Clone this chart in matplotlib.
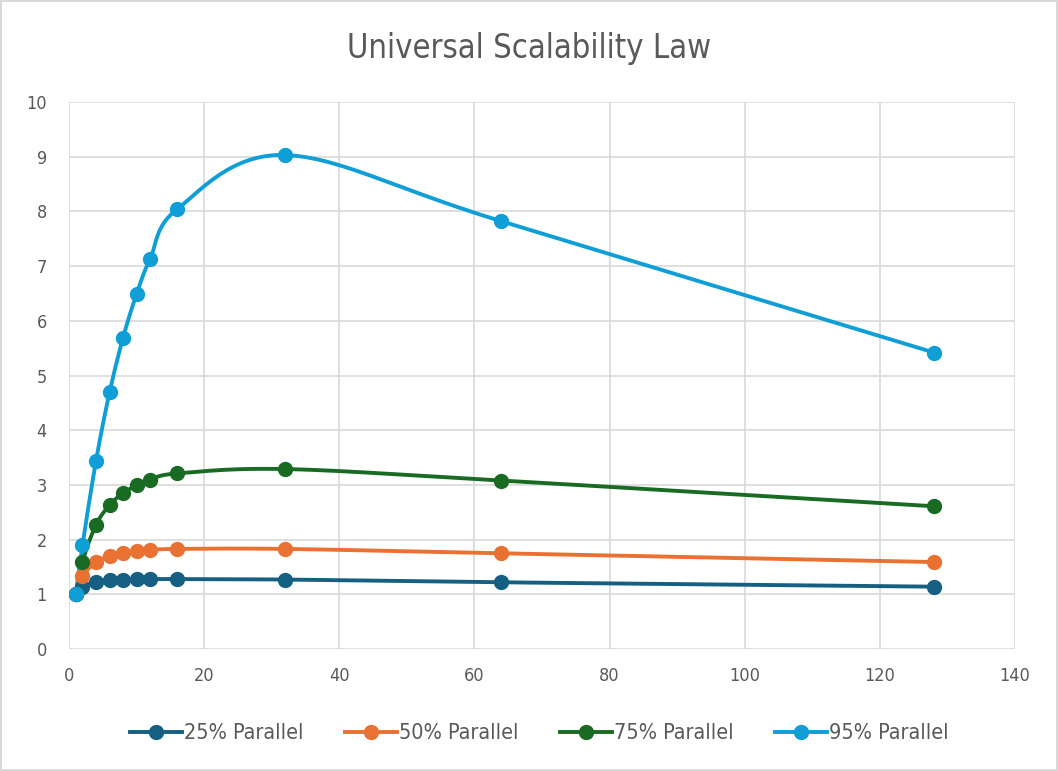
import numpy as np
import matplotlib
matplotlib.use("Agg")
import matplotlib.pyplot as plt
from matplotlib.lines import Line2D

# data
processors = [1, 2, 4, 6, 8, 10, 12, 16, 32, 64, 128]
par_25 = [1.0, 1.14, 1.23, 1.26, 1.27, 1.28, 1.28, 1.28, 1.27, 1.22, 1.14]
par_50 = [1.0, 1.33, 1.59, 1.70, 1.76, 1.79, 1.81, 1.83, 1.83, 1.75, 1.59]
par_75 = [1.0, 1.60, 2.27, 2.63, 2.85, 2.99, 3.09, 3.21, 3.29, 3.08, 2.61]
par_95 = [1.0, 1.90, 3.44, 4.69, 5.69, 6.49, 7.13, 8.04, 9.03, 7.82, 5.42]

labels = ["25% Parallel", "50% Parallel", "75% Parallel", "95% Parallel"]
colors = ["#156082", "#E97132", "#196B24", "#0F9ED5"]

plt.rcParams["font.family"] = ["DejaVu Sans"]
plt.rcParams["font.stretch"] = "condensed"
text_col = "#595959"
grid_col = "#D9D9D9"


def smooth(x, y, steps=30):
    # bezier smoothing like the office "smoothed line" option
    p = np.column_stack([x, y]).astype(float)
    n = len(p)
    out = [p[0]]
    for i in range(n - 1):
        p0 = p[i - 1] if i > 0 else p[i]
        p1 = p[i]
        p2 = p[i + 1]
        p3 = p[i + 2] if i + 2 < n else p[i + 1]
        c1 = p1 + (p2 - p0) / 6
        c2 = p2 - (p3 - p1) / 6
        t = np.linspace(0, 1, steps)[1:, None]
        seg = ((1 - t) ** 3) * p1 + 3 * ((1 - t) ** 2) * t * c1 + 3 * (1 - t) * t ** 2 * c2 + t ** 3 * p2
        out.extend(seg)
    out = np.array(out)
    return out[:, 0], out[:, 1]


fig = plt.figure(figsize=(10.58, 7.71), dpi=100)
fig.patch.set_edgecolor(grid_col)
fig.patch.set_linewidth(1.5)
ax = fig.add_axes([0.0652, 0.1582, 0.8942, 0.7095])

for vals, lab, col in zip([par_25, par_50, par_75, par_95], labels, colors):
    sx, sy = smooth(processors, vals)
    ax.plot(sx, sy, color=col, lw=2.8, solid_capstyle="round", zorder=3)
    ax.plot(processors, vals, "o", color=col, ms=10, zorder=4)

ax.set_xlim(0, 140)
ax.set_ylim(0, 10)
ax.set_xticks(range(0, 141, 20))
ax.set_yticks(range(0, 11))
ax.grid(True, color=grid_col, lw=1.2)
ax.set_axisbelow(True)
for s in ax.spines.values():
    s.set_visible(False)
ax.tick_params(length=0, labelsize=13, colors=text_col)
ax.tick_params(axis="y", pad=16)
ax.tick_params(axis="x", pad=13)

fig.suptitle("Universal Scalability Law", y=0.958, fontsize=23.5, color=text_col)

handles = [Line2D([], [], color=c, lw=2.8, marker="o", ms=10) for c in colors]
fig.legend(handles, labels, loc="center", bbox_to_anchor=(0.51, 0.049), ncol=4,
           frameon=False, fontsize=15.5, labelcolor=text_col, handlelength=2.4,
           handletextpad=0.1, columnspacing=1.93)

fig.savefig("out.png", dpi=100, edgecolor=fig.get_edgecolor())
